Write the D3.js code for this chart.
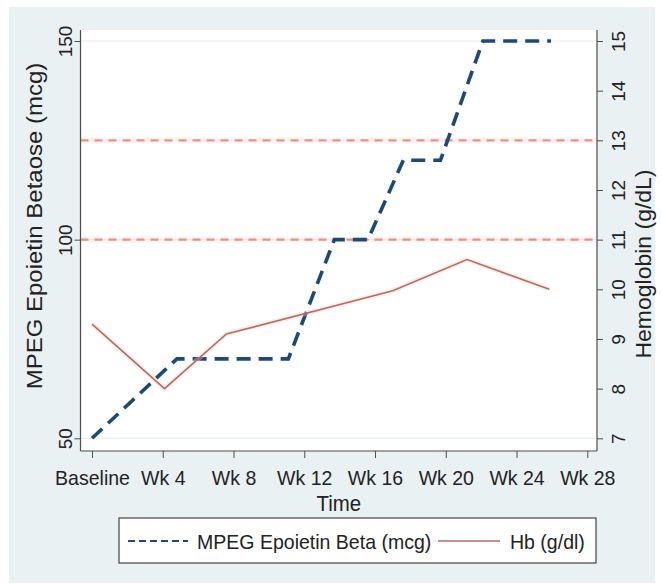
<!DOCTYPE html>
<html>
<head>
<meta charset="utf-8">
<script src="https://cdn.jsdelivr.net/npm/d3@7"></script>
<style>
  body { margin: 0; background: #ffffff; }
  svg text { font-family: "Liberation Sans", Arial, Helvetica, sans-serif; fill: #222; }
</style>
</head>
<body>
<svg id="chart" width="662" height="586"></svg>
<script>
// Time axis
const weekTicks = [0, 4, 8, 12, 16, 20, 24, 28];
const weekLabels = ["Baseline", "Wk 4", "Wk 8", "Wk 12", "Wk 16", "Wk 20", "Wk 24", "Wk 28"];

// MPEG Epoietin Beta dose (mcg), left axis
const doseWeeks = [0, 4.8, 11.1, 13.7, 15.6, 17.6, 19.7, 22.1, 25.95];
const doseMcg   = [50, 70, 70, 100, 100, 120, 120, 150, 150];
const doseTicks = [50, 100, 150];

// Hemoglobin (g/dL), right axis
const hbWeeks  = [0, 4.1, 7.6, 17.0, 21.2, 25.85];
const hbValues = [9.3, 8.0, 9.1, 9.97, 10.6, 10.0];
const hbTicks  = [7, 8, 9, 10, 11, 12, 13, 14, 15];
const hbTargets = [11, 13];

const legendLabels = ["MPEG Epoietin Beta (mcg)", "Hb (g/dl)"];

const plot = { left: 80.5, right: 597, top: 30, bottom: 451 };
const SX = 0.93; // horizontal squeeze applied to all lettering

const svg = d3.select("#chart");

// outer graph region
svg.append("rect").attr("x", 9).attr("y", 7).attr("width", 646).attr("height", 576)
  .attr("fill", "#eaf1f3");
// plot region
svg.append("rect").attr("x", plot.left).attr("y", plot.top)
  .attr("width", plot.right - plot.left).attr("height", plot.bottom - plot.top)
  .attr("fill", "#ffffff");

const x = d3.scaleLinear().domain([0, 28]).range([92, 587.3]);
const yDose = d3.scaleLinear().domain([50, 150]).range([438.3, 41]);
const yHb = d3.scaleLinear().domain([7, 15]).range([438.3, 41]);

// faint gridlines at the dose labels
svg.append("g").selectAll("line").data(doseTicks).join("line")
  .attr("x1", plot.left).attr("x2", plot.right)
  .attr("y1", d => yDose(d)).attr("y2", d => yDose(d))
  .attr("stroke", "#e2edf1").attr("stroke-width", 1);

// target Hb reference lines
svg.append("g").selectAll("line").data(hbTargets).join("line")
  .attr("x1", plot.left).attr("x2", plot.right)
  .attr("y1", d => yHb(d)).attr("y2", d => yHb(d))
  .attr("stroke", "#f6d6cc").attr("stroke-width", 6).attr("opacity", 0.25);
svg.append("g").selectAll("line").data(hbTargets).join("line")
  .attr("x1", plot.left).attr("x2", plot.right)
  .attr("y1", d => yHb(d)).attr("y2", d => yHb(d))
  .attr("stroke", "#e8937f").attr("stroke-width", 2.2)
  .attr("stroke-dasharray", "8,6");

// axes
const axisColor = "#4d4d4d";
function styleAxis(g) {
  g.selectAll(".domain").remove();
  g.selectAll(".tick line").attr("stroke", axisColor);
  g.selectAll("text").style("font-size", "19px");
}

const gx = svg.append("g").attr("transform", `translate(0,${plot.bottom})`)
  .call(d3.axisBottom(x).tickValues(weekTicks).tickSize(7)
    .tickFormat((d, i) => weekLabels[i]));
styleAxis(gx);
gx.selectAll("text").attr("y", 0).attr("dy", 0)
  .attr("transform", `translate(0,34) scale(${SX},1)`).style("font-size", "21px");

const gl = svg.append("g").attr("transform", `translate(${plot.left},0)`)
  .call(d3.axisLeft(yDose).tickValues(doseTicks).tickSize(6));
styleAxis(gl);
gl.selectAll("text").attr("x", 0).attr("y", 0).attr("dy", 0)
  .attr("text-anchor", "middle")
  .attr("transform", `translate(-9,0) scale(${SX},1) rotate(-90)`);

const gr = svg.append("g").attr("transform", `translate(${plot.right},0)`)
  .call(d3.axisRight(yHb).tickValues(hbTicks).tickSize(6));
styleAxis(gr);
gr.selectAll("text").attr("x", 0).attr("y", 0).attr("dy", 0)
  .attr("text-anchor", "middle")
  .attr("transform", `translate(28,0) scale(${SX},1) rotate(-90)`);

// axis lines
const axisLines = svg.append("g").attr("stroke", axisColor).attr("stroke-width", 1.2);
axisLines.append("line").attr("x1", plot.left).attr("x2", plot.left).attr("y1", plot.top).attr("y2", plot.bottom);
axisLines.append("line").attr("x1", plot.right).attr("x2", plot.right).attr("y1", plot.top).attr("y2", plot.bottom);
axisLines.append("line").attr("x1", plot.left).attr("x2", plot.right).attr("y1", plot.bottom).attr("y2", plot.bottom);

// dose series
const doseLine = d3.line().x(d => x(d[0])).y(d => yDose(d[1]));
svg.append("path").datum(d3.zip(doseWeeks, doseMcg))
  .attr("d", doseLine).attr("fill", "none")
  .attr("stroke", "#1a4b78").attr("stroke-width", 3.6)
  .attr("stroke-dasharray", "14,8");

// hemoglobin series
const hbLine = d3.line().x(d => x(d[0])).y(d => yHb(d[1]));
svg.append("path").datum(d3.zip(hbWeeks, hbValues))
  .attr("d", hbLine).attr("fill", "none")
  .attr("stroke", "#f4d2ca").attr("stroke-width", 5).attr("opacity", 0.35);
svg.append("path").datum(d3.zip(hbWeeks, hbValues))
  .attr("d", hbLine).attr("fill", "none")
  .attr("stroke", "#b66c61").attr("stroke-width", 1.6);

// axis titles
svg.append("text").attr("transform", `translate(42,226) scale(${SX},1) rotate(-90)`)
  .attr("text-anchor", "middle").style("font-size", "24px")
  .text("MPEG Epoietin Betaose (mcg)");
svg.append("text").attr("transform", `translate(651,264) scale(${SX},1) rotate(-90)`)
  .attr("text-anchor", "middle").style("font-size", "23px")
  .text("Hemoglobin (g/dL)");
svg.append("text").attr("transform", `translate(${(plot.left + plot.right) / 2},511) scale(${SX},1)`)
  .attr("text-anchor", "middle").style("font-size", "22px")
  .text("Time");

// legend
const lg = svg.append("g");
lg.append("rect").attr("x", 119).attr("y", 518).attr("width", 477).attr("height", 45)
  .attr("fill", "#ffffff").attr("stroke", "#444").attr("stroke-width", 1.2);
lg.append("line").attr("x1", 128).attr("x2", 188).attr("y1", 541).attr("y2", 541)
  .attr("stroke", "#1a4b78").attr("stroke-width", 2.2).attr("stroke-dasharray", "7,4");
lg.append("text").attr("transform", `translate(197,548.5) scale(${SX},1)`)
  .style("font-size", "21px").text(legendLabels[0]);
lg.append("line").attr("x1", 438).attr("x2", 500).attr("y1", 541).attr("y2", 541)
  .attr("stroke", "#b66c61").attr("stroke-width", 1.6);
lg.append("text").attr("transform", `translate(510,548.5) scale(${SX},1)`)
  .style("font-size", "21px").text(legendLabels[1]);
</script>
</body>
</html>
